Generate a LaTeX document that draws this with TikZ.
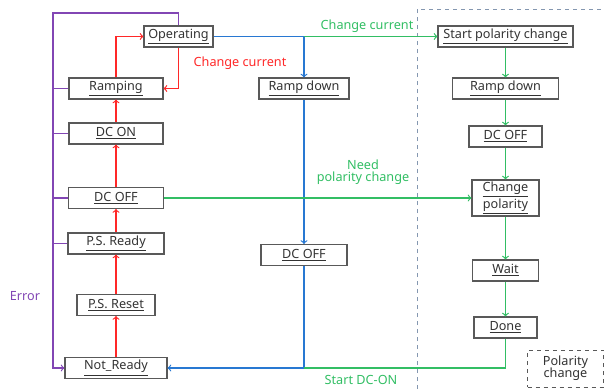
\documentclass[tikz,border=0pt]{standalone}
\usepackage{fontspec}
\setmainfont{Noto Sans}
\usepackage{tikz}
\usetikzlibrary{positioning}
\usetikzlibrary{calc}

\definecolor{boxgray}{RGB}{89,89,89}
\definecolor{txtgray}{RGB}{51,51,51}
\definecolor{stepred}{RGB}{255,40,40}
\definecolor{errpurple}{RGB}{130,70,180}
\definecolor{downblue}{RGB}{40,120,210}
\definecolor{polgreen}{RGB}{50,190,100}
\definecolor{regiongray}{RGB}{132,151,176}

\begin{document}
\begin{tikzpicture}
  [
    x=0.75pt, y=-0.75pt,
    font=\fontsize{9.5}{11}\selectfont,
    state/.style={draw=boxgray, line width=0.8pt, text=txtgray,
      minimum width=#1*0.75pt, minimum height=15.75pt, inner sep=1pt},
    rl/.style={draw=stepred, line width=0.9pt},
    pl/.style={draw=errpurple, line width=0.9pt},
    bl/.style={draw=downblue, line width=0.9pt},
    gl/.style={draw=polgreen, line width=0.9pt}
  ]
  \useasboundingbox (0,0) rectangle (604,389);

  % polarity change region
  \draw [draw=regiongray, dashed, line width=0.7pt] (417,389) -- (417,9) -- (604,9);

  % left column
  \node (operating) at (178.5, 36.5) [state=69]  {\underline{Operating}};
  \node   (ramping) at (116,   88.5) [state=94]  {\underline{Ramping}};
  \node      (dcon) at (116,  133.5) [state=94]  {\underline{DC ON}};
  \node     (dcoff) at (116,  198)   [state=95]  {\underline{DC OFF}};
  \node   (psready) at (116,  243.5) [state=96]  {\underline{P.S. Ready}};
  \node   (psreset) at (116,  305)   [state=78]  {\underline{P.S. Reset}};
  \node  (notready) at (116,  368)   [state=102] {\underline{Not\_Ready}};

  % middle column
  \node (rampdown) at (304, 88.5) [state=90] {\underline{Ramp down}};
  \node  (dcoffmid) at (304, 255) [state=86] {\underline{DC OFF}};

  % right column
  \node  (startpol) at (505.5, 36.5)  [state=135] {\underline{Start polarity change}};
  \node (rampdownp) at (505.5, 88.5)  [state=106] {\underline{Ramp down}};
  \node   (dcoffp) at (505.5, 136.5)  [state=73]  {\underline{DC OFF}};
  \node (changepol) at (505.5, 198)   [state=67, minimum height=27pt, align=center]
        {\underline{Change}\\\underline{polarity}};
  \node      (wait) at (505.5, 270.5) [state=66]  {\underline{Wait}};
  \node      (done) at (505.5, 327.5) [state=63]  {\underline{Done}};

  \node (legend) at (565.5, 368.5) [draw=boxgray, dashed, line width=0.7pt, text=txtgray,
        minimum width=57pt, minimum height=27.75pt, align=center, inner sep=1pt]
        {Polarity\\[-2pt]change};

  % startup sequence
  \draw [rl,->] (notready) -- (psreset);
  \draw [rl,->] (psreset) -- (psready);
  \draw [rl,->] (psready) -- (dcoff);
  \draw [rl,->] (dcoff) -- (dcon);
  \draw [rl,->] (dcon) -- (ramping);
  \draw [rl,->] (ramping.north) |- (operating.west);
  \draw [rl,->] (operating.south) |- (ramping.east);
  \node (lblcurrent) at (240, 63) [text=stepred] {Change current};

  % error path
  \coordinate (errtop) at (53, 13);
  \draw [pl,->] (operating.north) |- (errtop) -- (errtop |- notready.west) -- (notready.west);
  \draw [pl] (ramping.west) -- (ramping.west -| errtop);
  \draw [pl] (dcon.west) -- (dcon.west -| errtop);
  \draw [pl] (dcoff.west) -- (dcoff.west -| errtop);
  \draw [pl] (psready.west) -- (psready.west -| errtop);
  \node (lblerror) at (25, 296) [text=errpurple] {Error};

  % ramp down path
  \draw [bl,->] (operating.east) -| (rampdown.north);
  \draw [bl,->] (rampdown) -- (dcoffmid);
  \draw [bl,->] (dcoffmid.south) |- (notready.east);

  % polarity change path
  \draw [gl,->] (operating.east -| rampdown) -- (startpol.west);
  \node (lblchange) at (367, 26) [text=polgreen] {Change current};
  \draw [gl,->] (startpol) -- (rampdownp);
  \draw [gl,->] (rampdownp) -- (dcoffp);
  \draw [gl,->] (dcoffp) -- (changepol);
  \draw [gl,->] (changepol) -- (wait);
  \draw [gl,->] (wait) -- (done);
  \draw [gl,->] (dcoff.east) -- (changepol.west);
  \node (lblneed) at (363, 172) [text=polgreen, align=center] {Need\\[-2pt]polarity change};
  \draw [gl] (done.south) |- (dcoffmid.south |- notready.east);
  \node (lblstart) at (361, 380) [text=polgreen] {Start DC-ON};
\end{tikzpicture}
\end{document}
